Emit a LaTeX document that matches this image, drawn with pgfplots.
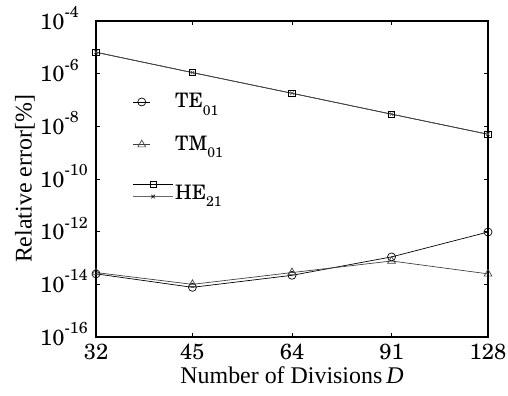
\documentclass[border=0pt]{standalone}
\usepackage{pgfplots}
\pgfplotsset{compat=1.18}
\usepackage{fontspec}
\setmainfont{TeX Gyre Schola}
\newfontfamily\lab{Liberation Serif}
\newcommand{\ex}[1]{10\raisebox{0.52em}{\fontsize{16}{18}\selectfont #1}}
\newcommand{\sub}[1]{\raisebox{-0.38em}{\fontsize{14}{16}\selectfont #1}}
\begin{document}
\fontsize{22}{26}\selectfont
\begin{tikzpicture}
\begin{axis}[
  scale only axis,
  width=392bp, height=316bp,
  xmode=log, ymode=log,
  xmin=32, xmax=128,
  ymin=1e-16, ymax=1e-4,
  xtick={32,45,64,91,128},
  xticklabels={32,45,64,91,128},
  ytick={1e-16,1e-14,1e-12,1e-10,1e-8,1e-6,1e-4},
  yticklabels={\ex{-16},\ex{-14},\ex{-12},\ex{-10},\ex{-8},\ex{-6},\ex{-4}},
  yticklabel style={anchor=base west, inner sep=0pt, xshift=-56bp, yshift=-8bp},
  xminorticks=false, yminorticks=false,
  tick align=inside,
  major tick length=4bp,
  axis line style={line width=1.1pt},
  every tick/.style={black, line width=0.6pt},
  xlabel={\lab\fontsize{24}{28}\selectfont Number of Divisions\,\textit{D}},
  ylabel={\lab\fontsize{24}{28}\selectfont Relative error[\%]},
  xlabel style={yshift=8bp},
  ylabel style={yshift=-2bp},
  legend cell align=left,
  legend style={draw=none, fill=none, at={(axis description cs:0.086,0.785)}, anchor=north west, row sep=21bp, font=\fontsize{20}{24}\selectfont},
]
\addplot[black, line width=0.7pt, mark=o, mark size=4bp, mark options={solid, fill=none}]
 coordinates {(32,2.5e-14) (45,7.7e-15) (64,2.2e-14) (91,1.1e-13) (128,9.7e-13)};
\addlegendentry{TE\sub{01}}
\addplot[black!75, line width=0.7pt, mark=triangle, mark size=4.5bp, mark options={solid, fill=none}]
 coordinates {(32,2.8e-14) (45,1.0e-14) (64,2.8e-14) (91,7.7e-14) (128,2.5e-14)};
\addlegendentry{TM\sub{01}}
\addplot[black, line width=0.7pt, mark=square, mark size=3.2bp, mark options={solid, fill=none},
  legend image code/.code={
    \draw[black, line width=0.6pt] (0cm,6bp) -- (1.4cm,6bp);
    \draw[black, line width=0.6pt, mark=square, mark size=3.2bp] plot coordinates {(0.7cm,6bp)};
    \draw[black!60, line width=0.6pt] (0cm,-6bp) -- (1.4cm,-6bp);
    \draw[black, line width=0.6pt, mark=x, mark size=2.5bp] plot coordinates {(0.7cm,-6bp)};
  }]
 coordinates {(32,6.5e-6) (45,1.1e-6) (64,1.8e-7) (91,2.9e-8) (128,5e-9)};
\addlegendentry{\rule{0pt}{1.05em}HE\sub{21}}
\addplot[black!70, line width=0.6pt, mark=x, mark size=2.5bp, mark options={solid}, forget plot]
 coordinates {(32,6.5e-6) (45,1.1e-6) (64,1.8e-7) (91,2.9e-8) (128,5e-9)};
\end{axis}
\pgfresetboundingbox
\path (-96bp,-59bp) rectangle (412bp,337bp);
\end{tikzpicture}
\end{document}
